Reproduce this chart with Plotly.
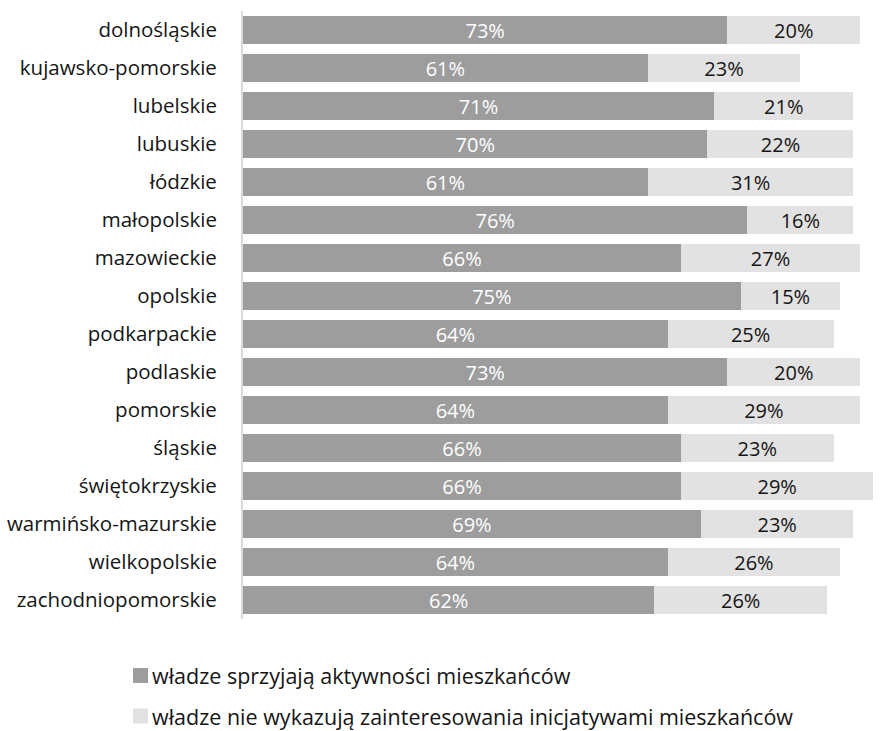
import plotly.graph_objects as go

# Województwa, od góry do dołu
regions = [
    "dolnośląskie", "kujawsko-pomorskie", "lubelskie", "lubuskie", "łódzkie",
    "małopolskie", "mazowieckie", "opolskie", "podkarpackie", "podlaskie",
    "pomorskie", "śląskie", "świętokrzyskie", "warmińsko-mazurskie",
    "wielkopolskie", "zachodniopomorskie",
]

# Odsetek odpowiedzi (%)
supportive = [73, 61, 71, 70, 61, 76, 66, 75, 64, 73, 64, 66, 66, 69, 64, 62]
uninterested = [20, 23, 21, 22, 31, 16, 27, 15, 25, 20, 29, 23, 29, 23, 26, 26]

series_names = [
    "władze sprzyjają aktywności mieszkańców",
    "władze nie wykazują zainteresowania inicjatywami mieszkańców",
]

DARK = "#9d9d9d"
LIGHT = "#e2e2e2"
FONT = "Open Sans, Noto Sans, sans-serif"
TXT = "#151515"

fig = go.Figure()
fig.add_trace(go.Bar(
    y=regions, x=supportive, orientation="h", name=series_names[0],
    marker=dict(color=DARK, line=dict(width=0)),
    text=[f"{v}%" for v in supportive], textposition="inside",
    insidetextanchor="middle", textangle=0, constraintext="none",
    textfont=dict(color="white", size=20, family=FONT),
    showlegend=False,
))
fig.add_trace(go.Bar(
    y=regions, x=uninterested, orientation="h", name=series_names[1],
    marker=dict(color=LIGHT, line=dict(width=0)),
    text=[f"{v}%" for v in uninterested], textposition="inside",
    insidetextanchor="middle", textangle=0, constraintext="none",
    textfont=dict(color=TXT, size=20, family=FONT),
    showlegend=False,
))

# Legenda rysowana ręcznie: kwadrat + opis
PLOT_L, PLOT_W, PLOT_B, PLOT_H = 243, 637, 619, 608
legend_rows = [(series_names[0], DARK, 675.5), (series_names[1], LIGHT, 716)]
for name, color, ypx in legend_rows:
    fig.add_shape(
        type="rect", xref="paper", yref="paper",
        x0=(133 - PLOT_L) / PLOT_W, x1=(148 - PLOT_L) / PLOT_W,
        y0=(PLOT_B - (ypx + 7.5)) / PLOT_H, y1=(PLOT_B - (ypx - 7.5)) / PLOT_H,
        fillcolor=color, line=dict(width=0),
    )
    fig.add_annotation(
        text=name, xref="paper", yref="paper",
        x=(151 - PLOT_L) / PLOT_W, y=(PLOT_B - ypx) / PLOT_H,
        xanchor="left", yanchor="middle", showarrow=False, borderpad=0,
        font=dict(size=21.5, color=TXT, family=FONT),
    )

fig.update_layout(
    width=880, height=731,
    margin=dict(l=PLOT_L, r=0, t=11, b=112),
    barmode="stack", bargap=0.26,
    plot_bgcolor="white", paper_bgcolor="white",
    uniformtext=dict(mode=False),
    xaxis=dict(range=[0, 96], visible=False, fixedrange=True),
    yaxis=dict(
        autorange="reversed", showline=True, linecolor="#d9d9d9", linewidth=2,
        ticks="", showgrid=False, ticklabelstandoff=20,
        tickfont=dict(size=20.5, color=TXT, family=FONT),
    ),
)

fig.write_html("out.html")
